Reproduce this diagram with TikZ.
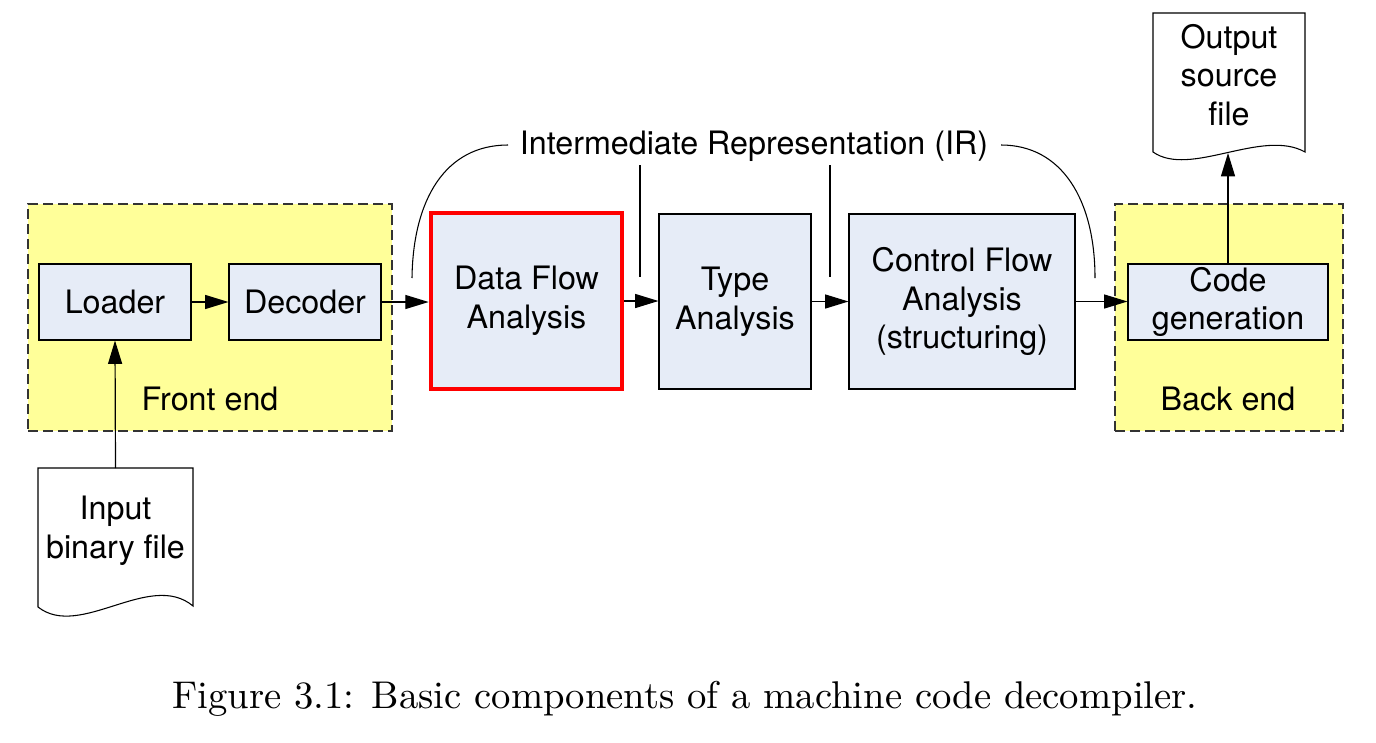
\documentclass[tikz,border=0pt]{standalone}
\usepackage{fontspec}
\newfontfamily\diagfont{TeX Gyre Heros}
\usetikzlibrary{arrows.meta,calc}
\definecolor{areayellow}{HTML}{FFFF99}
\definecolor{boxblue}{HTML}{E6ECF7}
\definecolor{dashgray}{HTML}{333333}
\begin{document}
\begin{tikzpicture}[x=0.75pt,y=-0.75pt,
  every node/.style={font=\diagfont\fontsize{24.2}{29}\selectfont, align=center},
  area/.style={draw=dashgray, fill=areayellow, line width=1.2pt, dash pattern=on 7.5pt off 3.75pt, inner sep=0pt},
  stage/.style={draw=black, fill=boxblue, line width=0.8pt, inner sep=0pt},
  hot/.style={stage, draw=red, line width=3.5pt},
  flow/.style={line width=0.9pt, -{Triangle[length=17.5pt,width=10.5pt]}},
  thinline/.style={line width=0.8pt},
  docshape/.style={draw=black, fill=white, line width=0.8pt}]
\useasboundingbox (0,0) rectangle (1376,742);
% areas
\node[area, minimum width=273pt, minimum height=170.25pt] (front) at (210,317.5) {};
\node[area, minimum width=171pt, minimum height=170.25pt] (back) at (1229,317.5) {};
\node (frontlbl) at (210,399) {Front end};
\node (backlbl) at (1228,399) {Back end};
% stages
\node[stage, minimum width=114pt, minimum height=57pt] (loader) at (115,302) {Loader};
\node[stage, minimum width=114pt, minimum height=57pt] (decoder) at (305,302) {Decoder};
\node[hot, minimum width=143.25pt, minimum height=132pt] (dfa) at (526.5,301) {Data Flow\\Analysis};
\node[stage, minimum width=114pt, minimum height=131.25pt] (type) at (735,301.5) {Type\\Analysis};
\node[stage, minimum width=169.5pt, minimum height=131.25pt] (cfa) at (962,301.5) {Control Flow\\Analysis\\(structuring)};
\node[stage, minimum width=150pt, minimum height=57pt] (code) at (1228,302) {Code\\generation};
% documents
\draw[docshape] (38,468) -- (193,468) -- (193,606) .. controls (150,570) and (80,640) .. (38,607) -- cycle;
\node (inp) at (115.5,531) {Input\\binary file};
\coordinate (inptop) at (115.5,468);
\draw[docshape] (1153,13) -- (1305,13) -- (1305,152) .. controls (1262,128) and (1190,178) .. (1153,152) -- cycle;
\node (outp) at (1229,75) {Output\\source\\file};
\coordinate (outbot) at (1228,153);
% IR label
\node[inner sep=0pt] (ir) at (754,146) {Intermediate Representation (IR)};
\coordinate (irL) at (508,145);
\coordinate (irR) at (1001,145);
\coordinate (irLend) at (412,278);
\coordinate (irRend) at (1095,278);
\draw[thinline] (irL) .. controls (445,145) and (413,200) .. (irLend);
\draw[thinline] (irR) .. controls (1062,145) and (1095,200) .. (irRend);
\coordinate (tick1top) at (640,165);
\coordinate (tick1bot) at (640,277);
\coordinate (tick2top) at (830,165);
\coordinate (tick2bot) at (830,277);
\draw[thinline] (tick1top) -- (tick1bot);
\draw[thinline] (tick2top) -- (tick2bot);
% flows
\draw[flow] (inptop) -- (loader.south);
\draw[flow] (loader) -- (decoder);
\draw[flow] (decoder.east) -- (decoder.east -| dfa.west);
\draw[flow] (dfa.east) -- (dfa.east -| type.west);
\draw[flow] (type) -- (cfa);
\draw[flow] (cfa.east) -- (cfa.east -| code.west);
\draw[flow] (code.north) -- (outbot);
% caption
\node[anchor=base, font=\normalfont] (cap) at (685,708) {\scalebox{2.9}{\fontsize{10}{12}\selectfont Figure 3.1: Basic components of a machine code decompiler.}};
\end{tikzpicture}
\end{document}
